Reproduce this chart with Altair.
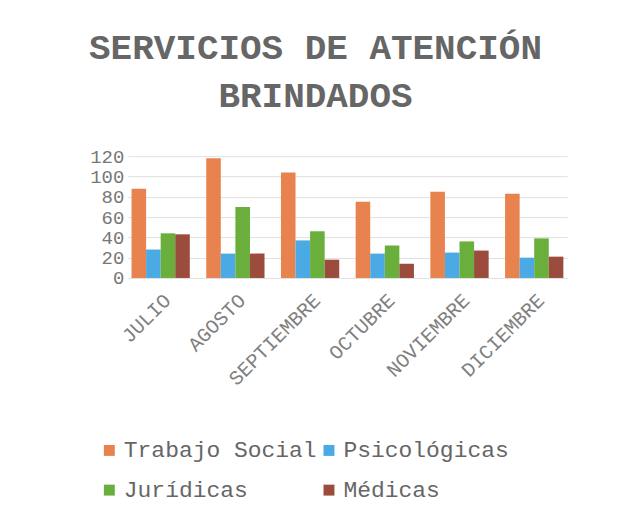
import altair as alt
import pandas as pd

months = ["JULIO", "AGOSTO", "SEPTIEMBRE", "OCTUBRE", "NOVIEMBRE", "DICIEMBRE"]
series = ["Trabajo Social", "Psicológicas", "Jurídicas", "Médicas"]
trabajo_social = [88, 118, 104, 75, 85, 83]
psicologicas = [28, 24, 37, 24, 25, 20]
juridicas = [44, 70, 46, 32, 36, 39]
medicas = [43, 24, 18, 14, 27, 21]
colors = ["#E8834F", "#4BA9E4", "#6AAF3C", "#9B4C3C"]

rows = []
for name, vals in zip(series, [trabajo_social, psicologicas, juridicas, medicas]):
    for m, v in zip(months, vals):
        rows.append({"Mes": m, "Servicio": name, "Valor": v})
df = pd.DataFrame(rows)

font = "Liberation Mono"

chart = alt.Chart(df).mark_bar().encode(
    x=alt.X("Mes:N", sort=months, title=None,
            scale=alt.Scale(paddingInner=0.22, paddingOuter=0.05),
            axis=alt.Axis(labelAngle=-45, labelAlign="right", labelBaseline="top",
                          labelFont=font, labelFontSize=20, labelColor="#808080",
                          ticks=False, domain=False, labelPadding=12)),
    xOffset=alt.XOffset("Servicio:N", sort=series),
    y=alt.Y("Valor:Q", title=None,
            scale=alt.Scale(domain=[0, 120]),
            axis=alt.Axis(values=[0, 20, 40, 60, 80, 100, 120], labelFont=font,
                          labelFontSize=19, labelColor="#777777", ticks=False,
                          domain=False, gridColor="#e0e0e0", labelPadding=4,
                          labelOverlap=False)),
    color=alt.Color("Servicio:N", sort=series,
                    scale=alt.Scale(domain=series, range=colors),
                    legend=alt.Legend(title=None, orient="none", legendX=-30, legendY=283,
                                      columns=2, direction="horizontal",
                                      symbolType="square", symbolSize=120,
                                      labelFont=font, labelFontSize=23, labelLimit=0,
                                      labelColor="#666666", rowPadding=16,
                                      columnPadding=-6, labelOffset=3)),
).properties(
    width=440,
    height=122,
    title=alt.TitleParams(
        text=["SERVICIOS DE ATENCIÓN", "BRINDADOS"],
        font=font, fontSize=36, fontWeight="bold", color="#666666",
        anchor="middle", frame="group", dx=-32, offset=32, lineHeight=48,
    ),
    autosize=alt.AutoSizeParams(type="none"),
    padding={"left": 120, "top": 148, "right": 50, "bottom": 230},
).configure_view(stroke=None)

chart.save("out.html", embed_options={"renderer": "svg", "actions": False})
